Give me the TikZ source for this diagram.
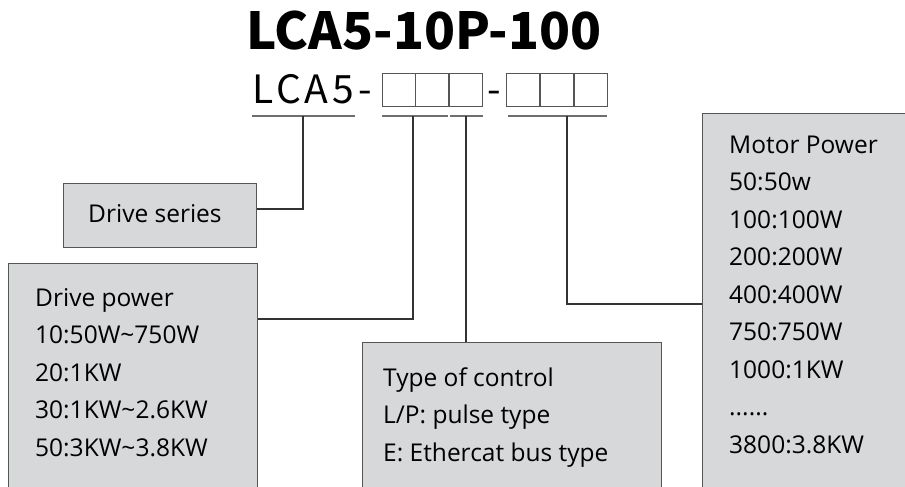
\documentclass[tikz,border=0pt]{standalone}
\usepackage{fontspec}
\setmainfont{Open Sans}
\newfontfamily\titlefont{Noto Sans CJK SC}
\newfontfamily\codefont{Noto Sans CJK SC}[LetterSpace=10]
\usetikzlibrary{positioning}

\definecolor{boxgray}{RGB}{214,216,217}
\definecolor{edgegray}{RGB}{85,85,85}
\definecolor{linegray}{RGB}{110,110,110}

\begin{document}
\begin{tikzpicture}[x=1pt,y=-1pt,
  infobox/.style={draw=edgegray,fill=boxgray,line width=1.2pt,anchor=north west,inner sep=0pt},
  infotext/.style={anchor=base west,align=left,inner sep=0pt,font=\fontsize{24.5}{37.5}\selectfont},
  digit/.style={draw=edgegray,line width=1pt,minimum size=33,inner sep=0pt,anchor=north west},
  uline/.style={draw=linegray,line width=2pt},
  link/.style={draw=black!80,line width=1.1pt}]
  \useasboundingbox (0,0) rectangle (905,487);
  \clip (0,0) rectangle (905,487);
  % part number
  \node[anchor=base,inner sep=0pt,font=\titlefont\bfseries\fontsize{51}{60}\selectfont] (title) at (424,50) {LCA5-10P-100};
  \node[anchor=base west,inner sep=0pt,font=\codefont\fontsize{39}{45}\selectfont] (prefix) at (252,103) {LCA5-};
  \foreach \x/\n in {382/d1,415/d2,449/d3,506/d4,540/d5,574/d6}
    \node[digit] (\n) at (\x,73) {};
  \node[anchor=base,inner sep=0pt,font=\titlefont\fontsize{39}{45}\selectfont] (dash) at (494,103) {-};
  % underlines
  \draw[uline] (252,116) -- (355,116);
  \draw[uline] (382,116) -- (448,116);
  \draw[uline] (450,116) -- (483,116);
  \draw[uline] (508,116) -- (607,116);
  \coordinate (tSeries) at (303,116);
  \coordinate (tPower) at (413,116);
  \coordinate (tCtrl) at (466,116);
  \coordinate (tMotor) at (567,116);
  % boxes
  \node[infobox,minimum width=193,minimum height=64] (series) at (63,183) {};
  \node[infobox,minimum width=249,minimum height=260] (power) at (8,263) {};
  \node[infobox,minimum width=299,minimum height=180] (ctrl) at (362,342) {};
  \node[infobox,minimum width=220,minimum height=400] (motor) at (702,113) {};
  % texts, anchored at the last baseline
  \node[infotext] (seriesText) at (88,222) {Drive series};
  \node[infotext] (powerText) at (35,456) {Drive power\\10:50W\textasciitilde750W\\20:1KW\\30:1KW\textasciitilde2.6KW\\50:3KW\textasciitilde3.8KW};
  \node[infotext] (ctrlText) at (383,461) {Type of control\\L/P: pulse type\\E: Ethercat bus type};
  \node[infotext] (motorText) at (729,453) {Motor Power\\50:50w\\100:100W\\200:200W\\400:400W\\750:750W\\1000:1KW\\......\\3800:3.8KW};
  % connectors
  \draw[link] (tSeries) |- ([yshift=-26]series.north east);
  \draw[link] (tPower) |- ([yshift=-56]power.north east);
  \draw[link] (tCtrl) -- (tCtrl |- ctrl.north);
  \draw[link] (tMotor) |- ([yshift=-191]motor.north west);
\end{tikzpicture}
\end{document}
